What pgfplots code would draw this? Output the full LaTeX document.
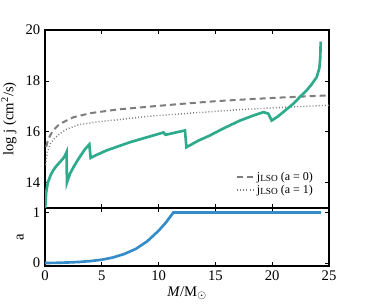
\documentclass[border=0pt]{standalone}
\usepackage{pgfplots}
\pgfplotsset{compat=1.18}
\usepackage{fontspec}
\setmainfont{Liberation Serif}
\definecolor{jgreen}{RGB}{46,170,140}
\definecolor{ablue}{RGB}{52,140,200}
\definecolor{lgray}{RGB}{125,125,125}
\pgfplotsset{
  common/.style={
    scale only axis, width=213pt, xmin=0, xmax=25,
    xtick={0,5,10,15,20,25},
    tick align=inside, major tick length=3pt,
    axis line style={line width=0.8pt}, every tick/.style={black, line width=0.5pt},
    /pgf/number format/assume math mode=true,
    tick label style={font=\fontsize{11}{12}\selectfont},
    label style={font=\fontsize{11}{12}\selectfont},
  }
}
\begin{document}
\begin{tikzpicture}
\useasboundingbox (-33.75pt,-29.25pt) rectangle (240.75pt,199.5pt);
\begin{axis}[common, at={(0,0)}, anchor=south west,
  height=43.5pt, ymin=-0.06, ymax=1.09, ytick={0,1},
  ylabel={a}, xlabel={\textit{M}/M$_\odot$},
  xlabel style={yshift=2pt}]
\addplot[ablue, line width=2pt] coordinates {
(0,0) (1,0.003) (2,0.01) (3,0.02) (4,0.038) (5,0.065) (6,0.11) (7,0.18) (8,0.28) (9,0.43) (10,0.64) (10.6,0.79) (11.3,1.0) (24.3,1.0)};
\end{axis}
\begin{axis}[common, at={(0,43.5pt)}, anchor=south west,
  height=133.5pt, ymin=13, ymax=20, ytick={14,16,18,20},
  xticklabels={},
  ylabel={log j (cm\textsuperscript{2}/s)},
  legend style={draw=none, fill=none, at={(0.968,0.04)}, anchor=south east,
    font=\fontsize{9}{10}\selectfont, row sep=-2pt},
  legend cell align=left,
  legend image code/.code={\draw[#1] (0pt,0pt) -- (12pt,0pt);}]
\addplot[lgray, line width=1.5pt, dash pattern=on 4.5pt off 3pt] coordinates {
(0.1,15.4) (0.3,15.72) (0.7,16.05) (1.3,16.31) (2.5,16.57) (4,16.73) (6.3,16.87) (9,16.98) (12.15,17.1) (15,17.2) (18,17.28) (21,17.35) (25,17.43)};
\addlegendentry{j\raisebox{-0.25ex}{\fontsize{7}{8}\selectfont LSO} (a = 0)}
\addplot[lgray, line width=1.1pt, dash pattern=on 0.7pt off 1.6pt] coordinates {
(0.05,14.7) (0.2,15.2) (0.5,15.55) (0.8,15.72) (1.3,15.92) (1.9,16.1) (3,16.28) (4.8,16.4) (6.6,16.48) (9,16.6) (12.15,16.71) (15,16.8) (17.2,16.87) (21,16.96) (25,17.04)};
\addlegendentry{j\raisebox{-0.25ex}{\fontsize{7}{8}\selectfont LSO} (a = 1)}
\addplot[jgreen, line width=2pt, forget plot] coordinates {
(0.02,13.0) (0.1,13.6) (0.25,14.0) (0.5,14.3) (0.75,14.5) (1.0,14.65) (1.3,14.8) (1.6,14.95) (1.76,15.06) (1.9,15.2) (1.93,14.0) (2.2,14.35) (2.5,14.6) (2.9,14.9) (3.2,15.1) (3.5,15.3) (3.9,15.5) (4.02,14.97) (4.5,15.08) (5.4,15.26) (6.6,15.45) (7.5,15.59) (8.5,15.72) (9.5,15.85) (10.42,15.97) (10.62,15.88) (11.5,15.97) (12.32,16.05) (12.45,15.39) (13.5,15.65) (14.5,15.85) (15.8,16.15) (17.17,16.44) (18.3,16.63) (19.22,16.77) (19.66,16.71) (19.95,16.44) (20.5,16.6) (21.86,17.1) (22.42,17.36) (23.04,17.63) (23.5,17.88) (23.92,18.15) (24.15,18.5) (24.23,18.9) (24.27,19.54)};
\end{axis}
\end{tikzpicture}
\end{document}
